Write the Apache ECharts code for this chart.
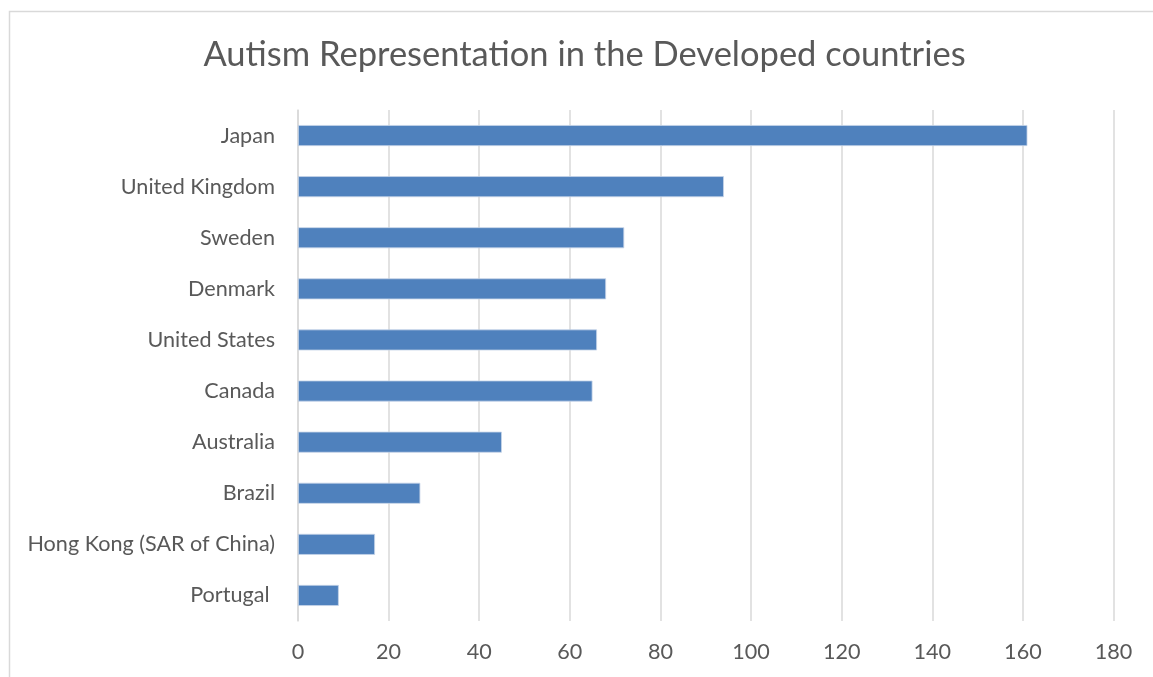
<!DOCTYPE html>
<html>
<head>
<meta charset="utf-8">
<script src="https://cdn.jsdelivr.net/npm/echarts@6/dist/echarts.min.js"></script>
<style>
  html, body { margin: 0; padding: 0; background: #fff; }
  #chart { width: 1153px; height: 677px; }
</style>
</head>
<body>
<div id="chart"></div>
<script>
// "Portugal " keeps the trailing space it has in the source sheet
const countries = [
  "Japan", "United Kingdom", "Sweden", "Denmark", "United States",
  "Canada", "Australia", "Brazil", "Hong Kong (SAR of China)", "Portugal "
];
const values = [161, 94, 72, 68, 66, 65, 45, 27, 17, 9];
const xTicks = [0, 180, 20]; // min, max, interval

const chart = echarts.init(document.getElementById("chart"));

const font = "Lato";
const textColor = "#595959";
const lineColor = "#d9d9d9";

const option = {
  animation: false,
  graphic: [{
    type: "rect",
    shape: { x: 9.5, y: 11.5, width: 1300, height: 800 },
    style: { fill: "none", stroke: lineColor, lineWidth: 1.5 },
    silent: true
  }, {
    // chart title, centred a little right of the canvas middle like the original
    type: "text",
    x: 584.5,
    y: 55,
    silent: true,
    style: {
      text: "Autism Representation in the Developed countries",
      align: "center",
      verticalAlign: "middle",
      fill: textColor,
      font: "normal 34.5px Lato"
    }
  }],
  grid: {
    left: 298,
    right: 39.5,
    top: 110,
    bottom: 56
  },
  xAxis: {
    type: "value",
    min: xTicks[0],
    max: xTicks[1],
    interval: xTicks[2],
    axisLine: { show: false },
    axisTick: { show: false },
    axisLabel: {
      color: textColor,
      fontFamily: font,
      fontSize: 21.6,
      margin: 20
    },
    splitLine: {
      lineStyle: { color: lineColor, width: 1.5 }
    }
  },
  yAxis: {
    type: "category",
    data: countries,
    inverse: true,
    axisLine: {
      lineStyle: { color: lineColor, width: 1.5 }
    },
    axisTick: {
      length: 7,
      lineStyle: { color: lineColor, width: 1.5 }
    },
    axisLabel: {
      color: textColor,
      fontFamily: font,
      fontSize: 21.6,
      margin: 23
    }
  },
  series: [{
    type: "bar",
    data: values,
    barWidth: 21,
    itemStyle: {
      color: "#4f81bd",
      borderColor: "#c6d4e8",
      borderWidth: 0.8
    }
  }]
};

chart.setOption(option);
</script>
</body>
</html>
